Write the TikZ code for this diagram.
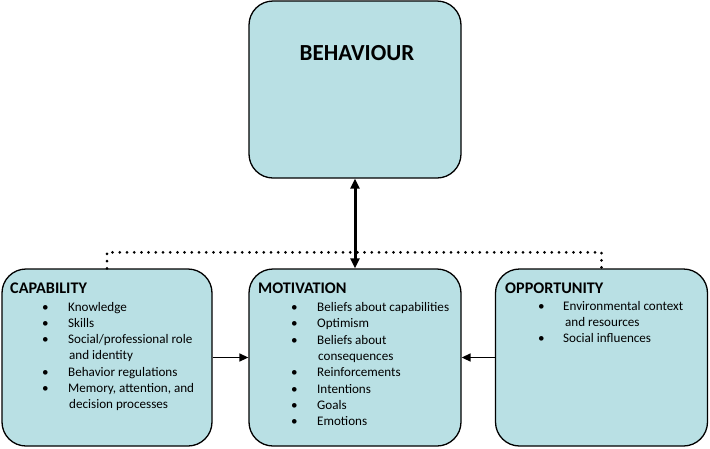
\documentclass[tikz,border=0pt]{standalone}
\usepackage{fontspec}
\setmainfont{Carlito}
\usetikzlibrary{arrows.meta}
\definecolor{boxfill}{RGB}{185,224,228}
\begin{document}
\begin{tikzpicture}[x=1pt,y=1pt,
  box/.style={draw=black, line width=1.3pt, fill=boxfill, rounded corners=24pt, minimum width=212pt, minimum height=177pt, inner sep=0pt},
  boxtitle/.style={anchor=base west, inner sep=0pt, font=\fontsize{16.2}{18}\selectfont\bfseries},
  items/.style={anchor=base west, inner sep=0pt, font=\fontsize{13.1}{16.3}\selectfont},
  dots/.style={line width=3pt, dash pattern=on 0pt off 7.2pt, line cap=round},
  conn/.style={line width=1.4pt, -{Triangle[length=9pt,width=8pt]}},
  bigconn/.style={line width=3pt, {Triangle[length=10pt,width=9pt]}-{Triangle[length=10pt,width=9pt]}}]
\useasboundingbox (0,0) rectangle (710,-448);
\node[box] (beh) at (355,-89.5) {};
\node[box, minimum width=210pt] (cap) at (107,-357.5) {};
\node[box] (mot) at (355,-357.5) {};
\node[box] (opp) at (601.5,-357.5) {};
\node[anchor=base, inner sep=0pt, font=\fontsize{23}{26}\selectfont\bfseries] (behtitle) at (357,-60) {BEHAVIOUR};
\node[boxtitle] (captitle) at (10,-293) {CAPABILITY};
\node[boxtitle] (mottitle) at (258,-293) {MOTIVATION};
\node[boxtitle] (opptitle) at (505,-293) {OPPORTUNITY};
\node[items] (capitems) at (42,-311) {\begin{tabular}[t]{@{}p{26pt}@{}l@{}}
\textbullet & Knowledge\\
\textbullet & Skills\\
\textbullet & Social/professional role\\
 & \hspace{1pt}and identity\\
\textbullet & Behavior regulations\\
\textbullet & Memory, attention, and\\
 & \hspace{1pt}decision processes
\end{tabular}};
\node[items] (motitems) at (291,-311.5) {\begin{tabular}[t]{@{}p{26pt}@{}l@{}}
\textbullet & Beliefs about capabilities\\
\textbullet & Optimism\\
\textbullet & Beliefs about\\
 & \hspace{1pt}consequences\\
\textbullet & Reinforcements\\
\textbullet & Intentions\\
\textbullet & Goals\\
\textbullet & Emotions
\end{tabular}};
\node[items] (oppitems) at (538,-310) {\begin{tabular}[t]{@{}p{25pt}@{}l@{}}
\textbullet & Environmental context\\
 & \hspace{2pt}and resources\\
\textbullet & Social influences
\end{tabular}};
\coordinate (dl) at ([yshift=16pt]cap.north);
\draw[dots] (cap.north) -- (dl) -| (opp.north);
\draw[bigconn] (beh.south) -- (mot.north);
\draw[conn] (cap.east) -- (mot.west);
\draw[conn] (opp.west) -- (mot.east);
\end{tikzpicture}
\end{document}
